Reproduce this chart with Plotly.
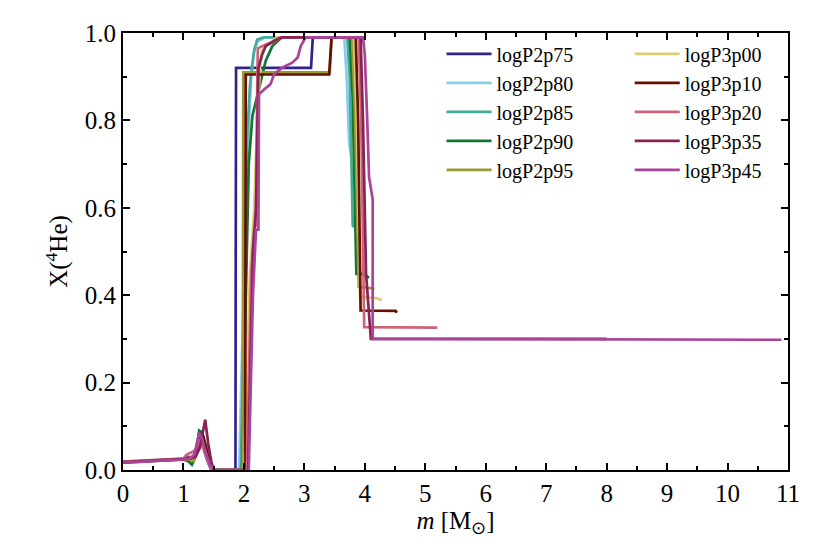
import plotly.graph_objects as go

# helium mass fraction profiles X(4He) vs mass coordinate m [Msun]
labels = ["logP2p75", "logP2p80", "logP2p85", "logP2p90", "logP2p95",
          "logP3p00", "logP3p10", "logP3p20", "logP3p35", "logP3p45"]
colors = ["#332288", "#88CCEE", "#44AA99", "#117733", "#999933",
          "#DDCC77", "#661100", "#CC6677", "#882255", "#AA4499"]

m_2p75 = [0, 0.5, 1.0, 1.08, 1.15, 1.22, 1.28, 1.33, 1.4, 1.46, 1.86, 1.865, 1.87, 3.11, 3.14, 3.66]
x_2p75 = [0.018, 0.021, 0.025, 0.03, 0.028, 0.045, 0.07, 0.05, 0.02, 0.0, 0.0, 0.5, 0.92, 0.92, 0.99, 0.99]

m_2p80 = [0, 0.5, 1.0, 1.1, 1.18, 1.24, 1.3, 1.36, 1.42, 1.48, 1.92, 2.05, 2.12, 2.17, 2.22, 2.35, 3.66, 3.70, 3.74, 3.77]
x_2p80 = [0.019, 0.022, 0.026, 0.028, 0.035, 0.06, 0.08, 0.05, 0.02, 0.0, 0.0, 0.7, 0.9, 0.96, 0.98, 0.99, 0.99, 0.9, 0.75, 0.72]

m_2p85 = [0, 0.5, 1.0, 1.1, 1.18, 1.25, 1.3, 1.36, 1.42, 1.48, 1.95, 2.05, 2.1, 2.13, 2.17, 2.22, 2.33, 3.71, 3.75, 3.80, 3.82]
x_2p85 = [0.018, 0.021, 0.025, 0.022, 0.035, 0.07, 0.09, 0.06, 0.025, 0.0, 0.0, 0.75, 0.88, 0.92, 0.96, 0.985, 0.99, 0.99, 0.9, 0.56, 0.555]

m_2p90 = [0, 0.5, 1.0, 1.08, 1.14, 1.2, 1.26, 1.31, 1.36, 1.42, 1.48, 1.97, 2.08, 2.14, 2.25, 2.36, 2.47, 2.63, 3.75, 3.80, 3.86, 3.96, 4.07]
x_2p90 = [0.017, 0.02, 0.024, 0.02, 0.012, 0.03, 0.09, 0.085, 0.05, 0.02, 0.0, 0.0, 0.7, 0.81, 0.875, 0.936, 0.97, 0.99, 0.99, 0.85, 0.449, 0.449, 0.44]

m_2p95 = [0, 0.5, 1.0, 1.1, 1.17, 1.23, 1.29, 1.34, 1.4, 1.47, 1.98, 1.99, 3.42, 3.45, 3.79, 3.84, 3.90, 4.16]
x_2p95 = [0.018, 0.021, 0.025, 0.024, 0.02, 0.05, 0.075, 0.06, 0.025, 0.0, 0.0, 0.91, 0.91, 0.99, 0.99, 0.8, 0.419, 0.415]

m_3p00 = [0, 0.5, 1.0, 1.1, 1.18, 1.24, 1.3, 1.36, 1.42, 1.48, 2.0, 2.1, 2.17, 2.22, 2.25, 2.27, 2.3, 2.4, 2.55, 3.82, 3.87, 3.92, 4.21, 4.28]
x_3p00 = [0.018, 0.021, 0.025, 0.027, 0.03, 0.055, 0.08, 0.06, 0.025, 0.0, 0.0, 0.45, 0.6, 0.8, 0.87, 0.93, 0.96, 0.975, 0.99, 0.99, 0.8, 0.396, 0.393, 0.388]

m_3p10 = [0, 0.5, 1.0, 1.1, 1.18, 1.25, 1.31, 1.36, 1.42, 1.49, 2.02, 2.03, 3.41, 3.45, 3.85, 3.89, 3.93, 4.51, 4.53]
x_3p10 = [0.018, 0.021, 0.025, 0.026, 0.03, 0.06, 0.085, 0.06, 0.025, 0.0, 0.0, 0.905, 0.905, 0.99, 0.99, 0.8, 0.365, 0.364, 0.36]

m_3p20 = [0, 0.5, 1.0, 1.05, 1.12, 1.2, 1.27, 1.33, 1.4, 1.47, 2.05, 2.12, 2.17, 2.2, 2.22, 2.23, 2.38, 2.5, 2.61, 3.9, 3.94, 3.99, 5.2]
x_3p20 = [0.019, 0.022, 0.026, 0.035, 0.04, 0.045, 0.07, 0.05, 0.02, 0.0, 0.0, 0.45, 0.55, 0.56, 0.87, 0.965, 0.975, 0.98, 0.99, 0.99, 0.8, 0.327, 0.326]

m_3p35 = [0, 0.5, 1.0, 1.1, 1.2, 1.27, 1.33, 1.36, 1.41, 1.46, 1.5, 2.07, 2.15, 2.2, 2.24, 2.3, 2.36, 2.54, 2.63, 3.93, 3.97, 4.02, 4.1, 8.0]
x_3p35 = [0.018, 0.021, 0.025, 0.028, 0.03, 0.05, 0.09, 0.115, 0.06, 0.02, 0.0, 0.0, 0.5, 0.6, 0.92, 0.95, 0.97, 0.985, 0.99, 0.99, 0.8, 0.45, 0.30, 0.30]

m_3p45 = [0, 0.5, 1.0, 1.1, 1.18, 1.26, 1.31, 1.37, 1.43, 1.49, 2.08, 2.15, 2.2, 2.24, 2.25, 2.31, 2.44, 2.5, 2.64, 2.8, 2.89, 2.94, 3.02,
          3.97, 4.0, 4.04, 4.07, 4.13, 4.13, 10.89]
x_3p45 = [0.017, 0.02, 0.024, 0.026, 0.035, 0.085, 0.07, 0.04, 0.015, 0.0, 0.0, 0.4, 0.55, 0.55, 0.86, 0.868, 0.883, 0.906, 0.921, 0.932, 0.944, 0.97, 0.99,
          0.99, 0.95, 0.8, 0.67, 0.62, 0.30, 0.298]

ms = [m_2p75, m_2p80, m_2p85, m_2p90, m_2p95, m_3p00, m_3p10, m_3p20, m_3p35, m_3p45]
xs = [x_2p75, x_2p80, x_2p85, x_2p90, x_2p95, x_3p00, x_3p10, x_3p20, x_3p35, x_3p45]

FONT = "Liberation Serif, serif"

fig = go.Figure()
for i, (lab, col, m, x) in enumerate(zip(labels, colors, ms, xs)):
    fig.add_trace(go.Scatter(
        x=m, y=x, mode="lines", name=lab,
        line=dict(color=col, width=2.7),
        legend="legend" if i < 5 else "legend2",
    ))

axis_common = dict(
    showline=True, linecolor="black", linewidth=2, mirror="ticks",
    ticks="inside", ticklen=7, tickwidth=2, tickcolor="black",
    showgrid=False, zeroline=False,
    tickfont=dict(family=FONT, size=25, color="black"),
)

fig.update_xaxes(
    range=[0, 11], dtick=1,
    minor=dict(ticks="inside", ticklen=4, tickwidth=1.5, dtick=0.5, tickcolor="black"),
    title=dict(text="<i>m</i> [M<sub>⊙</sub>]", font=dict(family=FONT, size=25, color="black"), standoff=4),
    **axis_common,
)
fig.update_yaxes(
    range=[0, 1.0], dtick=0.2, tickformat=".1f",
    minor=dict(ticks="inside", ticklen=4, tickwidth=1.5, dtick=0.1, tickcolor="black"),
    title=dict(text="X(<sup>4</sup>He)", font=dict(family=FONT, size=25, color="black"), standoff=10),
    **axis_common,
)

legend_common = dict(
    font=dict(family=FONT, size=20, color="black"),
    bgcolor="rgba(0,0,0,0)", borderwidth=0, itemwidth=45,
    xanchor="left", yanchor="top", yref="paper", xref="paper",
)

# page body adds an 8px offset, so the figure is sized to compensate
fig.update_layout(
    width=822, height=546,
    margin=dict(l=115, r=42, t=23, b=84),
    font=dict(family=FONT, color="black"),
    paper_bgcolor="white", plot_bgcolor="white",
    legend=dict(x=0.479, y=0.997, **legend_common),
    legend2=dict(x=0.762, y=0.997, **legend_common),
)

fig.write_html("out.html")
